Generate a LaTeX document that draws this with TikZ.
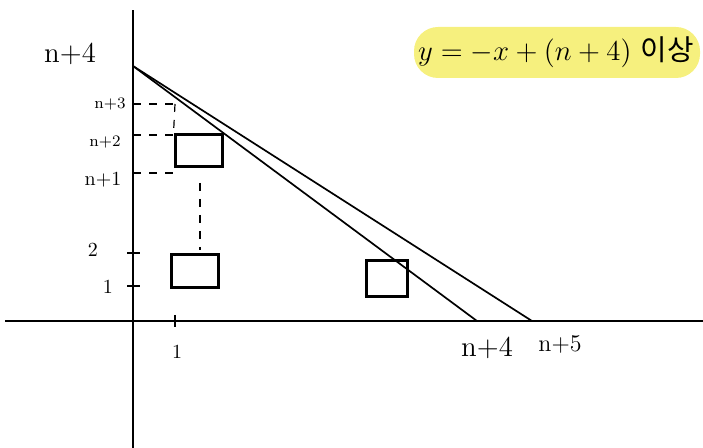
\documentclass[tikz,border=0pt]{standalone}
\usepackage{fontspec}
\usepackage{tikz}
\usepackage{xcolor}
\usetikzlibrary{positioning, calc}
\newfontfamily\krfont{Noto Sans CJK KR}
\definecolor{marker}{HTML}{F6F07E}

\begin{document}
\begin{tikzpicture}[x=0.5pt, y=-0.5pt,
  axis/.style={black, line width=0.9pt},
  graphline/.style={black, line width=0.85pt},
  box/.style={draw, line width=1.5pt, minimum width=23.5pt, minimum height=16pt, inner sep=0pt},
  guide/.style={black, line width=0.6pt, dash pattern=on 4pt off 4pt},
  tickmark/.style={black, line width=0.7pt},
  lbl/.style={inner sep=1pt, font=\normalsize}]
\useasboundingbox (0,0) rectangle (703,448);

%--- Highlighter band behind the formula
\fill[marker, rounded corners=12pt] (414,27) rectangle (700,78);

%--- Axes
\coordinate (ybot) at (133,448);
\coordinate (ytop) at (133,10);
\coordinate (xleft) at (5,321);
\coordinate (xright) at (703,321);
\draw[axis] (ybot) -- (ytop);
\draw[axis] (xleft) -- (xright);

%--- Intercepts and the two lines
\coordinate (yint) at (133,66);
\coordinate (xn4) at (477,321);
\coordinate (xn5) at (532,321);
\draw[graphline] (yint) -- (xn4);
\draw[graphline] (yint) -- (xn5);

%--- Ticks on the y axis
\foreach \y/\name in {104/t3, 135/t2, 173/t1} {
  \coordinate (\name) at (133,\y);
  \draw[tickmark] (\name) -- ++(7,0);
}
\foreach \y/\name in {253/ttwo, 286/tone} {
  \coordinate (\name) at (133,\y);
  \draw[tickmark] ($(\name)+(-6,0)$) -- ++(13,0);
}
% tick on the x axis
\coordinate (xone) at (175,321);
\draw[tickmark] ($(xone)+(0,-6)$) -- ++(0,12);

%--- Unit squares
\node[box] (sqtop) at (198.5,151) {};
\node[box, minimum height=16.5pt] (sqlow) at (194.5,271.5) {};
\node[box, minimum width=20.5pt, minimum height=18pt] (sqline) at (386.5,278.5) {};

%--- Dashed guides
\coordinate (cornerup) at (175,104);
\draw[guide] (t3) -- (cornerup);
\draw[guide] (cornerup) -- (sqtop.north west);
\draw[guide] (t2) -- (t2 -| sqtop.west);
\draw[guide] (t1) -- (t1 -| sqtop.west);
\coordinate (dtop) at (200,183);
\coordinate (dbot) at (200,250);
\draw[guide] (dtop) -- (dbot);

%--- Labels
\node[lbl, font=\Large] (ln4) at (70,54) {n+4};
\node[lbl, font=\footnotesize] (ln3) at (110,104) {n+3};
\node[lbl, font=\footnotesize] (ln2) at (105,142) {n+2};
\node[lbl] (ln1) at (103,180) {n+1};
\node[lbl] (ltwo) at (93,250) {2};
\node[lbl] (lone) at (108,287) {1};
\node[lbl] (lxone) at (177,352) {1};
\node[lbl, font=\Large] (lxn4) at (487,348) {n+4};
\node[lbl, font=\large] (lxn5) at (560,344) {n+5};

%--- Formula
\node[lbl, font=\Large] (formula) at (556,52) {$y=-x+(n+4)$ {\krfont 이상}};

\end{tikzpicture}
\end{document}
